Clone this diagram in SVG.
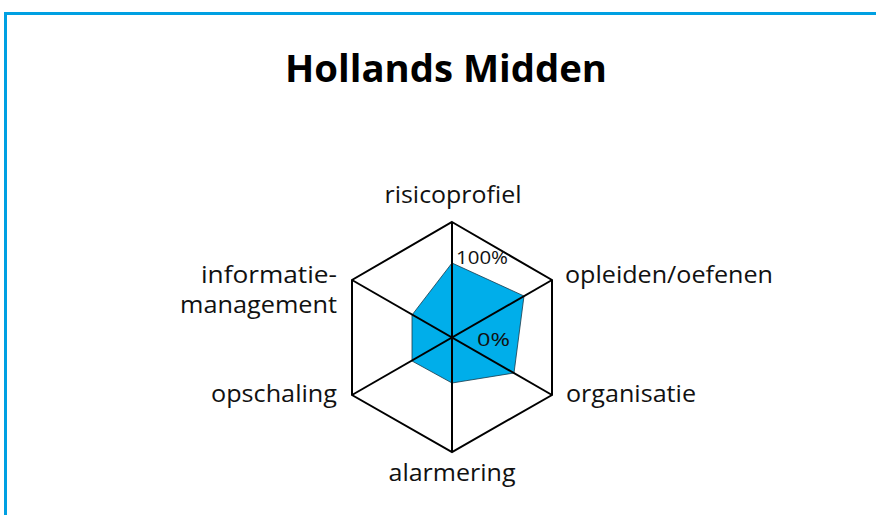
<svg xmlns="http://www.w3.org/2000/svg" width="876" height="515" viewBox="0 0 876 515">
<style>
.lbl{font-family:"Open Sans","Noto Sans","Liberation Sans",sans-serif;font-size:23px;fill:#111}
.pct{font-family:"Open Sans","Noto Sans","Liberation Sans",sans-serif;font-size:19px;fill:#111}
.title{font-family:"Open Sans","Noto Sans","Liberation Sans",sans-serif;font-size:38px;font-weight:bold;fill:#000}
.grid{fill:none;stroke:#000;stroke-width:2;stroke-linejoin:miter}
</style>
<rect width="876" height="515" fill="#fff"/>
<g id="frame">
<path d="M5.5 515 V13.5 H876" fill="none" stroke="#00a0e2" stroke-width="3"/>
</g>
<text class="title" x="446" y="82" text-anchor="middle" textLength="322" lengthAdjust="spacingAndGlyphs">Hollands Midden</text>
<g id="data">
<polygon points="452,263 524,296 514,373 452,383 412,361 412,315" fill="#00aeea" stroke="#1a3a4a" stroke-width="0.8"/>
</g>
<g id="connectors">
<polygon class="grid" points="452,222 552,280 552,395 452,452 352,395 352,280"/>
<line class="grid" x1="452" y1="222" x2="452" y2="452"/>
<line class="grid" x1="552" y1="280" x2="352" y2="395"/>
<line class="grid" x1="552" y1="395" x2="352" y2="280"/>
</g>
<g id="scale">
<text class="pct" x="456" y="264" textLength="52" lengthAdjust="spacingAndGlyphs">100%</text>
<text class="pct" x="477" y="346" textLength="33" lengthAdjust="spacingAndGlyphs">0%</text>
</g>
<g id="risicoprofiel"><text class="lbl" x="453" y="203" text-anchor="middle" textLength="137" lengthAdjust="spacingAndGlyphs">risicoprofiel</text></g>
<g id="opleiden"><text class="lbl" x="565" y="283" textLength="208" lengthAdjust="spacingAndGlyphs">opleiden/oefenen</text></g>
<g id="organisatie"><text class="lbl" x="566" y="402" textLength="130" lengthAdjust="spacingAndGlyphs">organisatie</text></g>
<g id="alarmering"><text class="lbl" x="452" y="481" text-anchor="middle" textLength="127" lengthAdjust="spacingAndGlyphs">alarmering</text></g>
<g id="opschaling"><text class="lbl" x="337" y="402" text-anchor="end" textLength="126" lengthAdjust="spacingAndGlyphs">opschaling</text></g>
<g id="informatiemanagement">
<text class="lbl" x="337" y="283" text-anchor="end" textLength="136" lengthAdjust="spacingAndGlyphs">informatie-</text>
<text class="lbl" x="337" y="313" text-anchor="end" textLength="157" lengthAdjust="spacingAndGlyphs">management</text>
</g>
</svg>
